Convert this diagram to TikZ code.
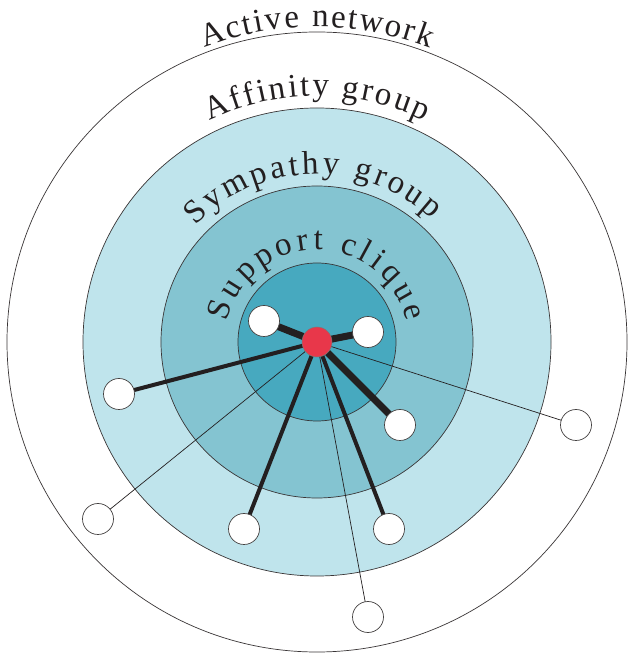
\documentclass[tikz,border=0pt]{standalone}
\usepackage{fontspec}
\usetikzlibrary{calc,backgrounds,decorations.text}
\newfontfamily\lblfont{Liberation Serif}
\definecolor{affin}{HTML}{BFE4EC}
\definecolor{symp}{HTML}{84C4D1}
\definecolor{supp}{HTML}{47A9BF}
\definecolor{egored}{HTML}{E8374A}
\definecolor{ink}{HTML}{231F20}

\begin{document}
\begin{tikzpicture}[x=1pt,y=1pt,
  ring/.style={draw=ink!90,line width=.7pt},%
  pe/.style={circle,draw=ink!85,line width=.7pt,fill=white,minimum size=31pt,inner sep=0pt},%
  ego/.style={circle,draw=ink!60,line width=.5pt,fill=egored,minimum size=30pt,inner sep=0pt},%
  strong/.style={line width=7pt,draw=ink},%
  mid/.style={line width=4pt,draw=ink},%
  weak/.style={line width=.7pt,draw=ink},%
  lbl/.style={decorate,
    decoration={text along path,
      text={|\lblfont\fontsize{33}{33}\selectfont\color{ink}|#1},
      text align=fit to path}}
  ]
  \useasboundingbox (0,0) rectangle (630,653);
  \coordinate (c) at (317,311);

  % rings
  \begin{scope}[on background layer]
    \draw[ring,fill=white] (c) circle[radius=310];
    \draw[ring,fill=affin] (c) circle[radius=234];
    \draw[ring,fill=symp] (c) circle[radius=156];
    \draw[ring,fill=supp] (c) circle[radius=79];
  \end{scope}

  % people
  \node (me) [ego] at (c) {};
  \node (s1) [pe] at (264,332) {};
  \node (s2) [pe] at (368,321) {};
  \node (s3) [pe] at (400,228) {};
  \node (y1) [pe] at (119,259) {};
  \node (y2) [pe] at (244,124) {};
  \node (y3) [pe] at (389,124) {};
  \node (w1) [pe] at (98,134) {};
  \node (w2) [pe] at (576,228) {};
  \node (w3) [pe] at (368,36) {};

  \begin{scope}[on background layer]
    \foreach \n in {s1,s2,s3} \draw[strong] (me.center) -- (\n.center);
    \foreach \n in {y1,y2,y3} \draw[mid] (me.center) -- (\n.center);
    \foreach \n in {w1,w2,w3} \draw[weak] (me.center) -- (\n.center);
  \end{scope}

  % ring names
  \path[lbl=Active network] ($(c)+(111:315)$) arc[start angle=111,end angle=69,radius=315];
  \path[lbl=Affinity group] ($(c)+(116:246)$) arc[start angle=116,end angle=64,radius=246];
  \path[lbl=Sympathy group] ($(c)+(136:168)$) arc[start angle=136,end angle=47,radius=168];
  \path[lbl=Support clique] ($(c)+(167:92)$) arc[start angle=167,end angle=13,radius=92];
\end{tikzpicture}
\end{document}
